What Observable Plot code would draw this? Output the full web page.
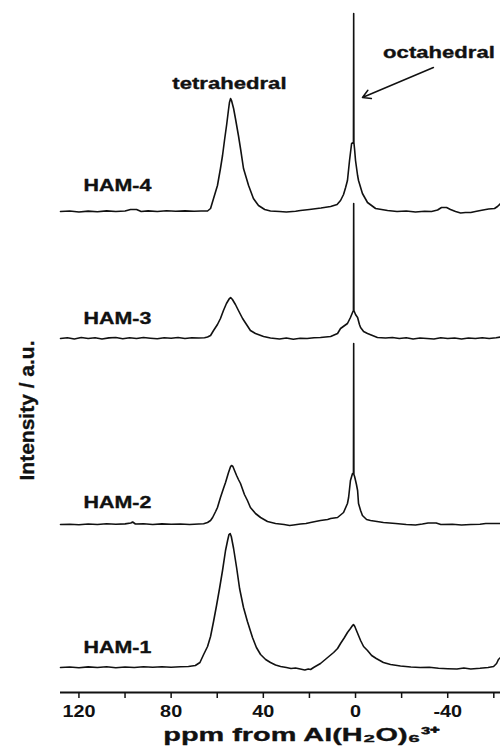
<!DOCTYPE html>
<html><head><meta charset="utf-8">
<script src="https://cdn.jsdelivr.net/npm/d3@7"></script>
<script src="https://cdn.jsdelivr.net/npm/@observablehq/plot@0.6"></script>
<style>
html,body{margin:0;padding:0;background:#fff;}
</style>
</head><body>
<div id="chart"></div>
<script>
// ---- data (ppm, intensity above each trace's own baseline, a.u.) ----
const samples = ["HAM-1", "HAM-2", "HAM-3", "HAM-4"];
const baselines = [25, 168, 354, 481];  // vertical stacking offsets, a.u.

const ham1 = [[128,0],[124,0.5],[120,-0.3],[116,0.6],[112,0],[108,0.8],[104,-0.2],[100,0.5],[96,0],[92,0.7],[88,0.2],[84,0.8],[80,0.3],[76,0.8],[72.5,1],[69.5,2],[67.5,5],[65.9,13],[64.2,21],[62.9,31],[61.6,46],[60.3,62],[59.0,79],[57.7,97],[56.4,117],[55.5,127],[54.9,133],[54.4,134],[53.9,131],[52.9,119],[51.6,100],[50.3,79],[48.6,60],[46.9,46],[44.7,30],[43.0,20],[41.2,13],[39.0,8],[36.9,5],[34.7,2.5],[32.5,1],[30,0],[28,-1],[26,-0.5],[24,-1.5],[22,-2.5],[20.5,-1.5],[19.5,-2],[18.2,0],[15.2,4],[12.1,10],[9.5,15],[7.8,19],[6.5,24],[4.8,30],[3.5,35],[2.2,39],[1.3,42],[0.9,43],[0.3,41],[-0.4,37],[-1.3,32],[-2.2,27],[-3.5,21],[-5.2,17],[-7,12],[-9,9],[-12.1,5],[-15.2,3],[-19.5,1.5],[-24,0.5],[-28,0],[-32,0.3],[-36,-0.8],[-40,-1.2],[-44,-1.5],[-47,-0.5],[-50,-1.5],[-54,-0.8],[-57.5,0],[-59.9,1],[-61.2,4],[-62,8],[-62.9,10]];

const ham2 = [[128,0],[124,0.3],[120,-0.2],[116,0.5],[112,0],[108,0.8],[104,0.2],[100,0.6],[97.5,1.5],[96.7,2.5],[95.5,0.5],[92,0.8],[88,0],[84,0.6],[80,0.2],[76,0.5],[72,0],[68,0.5],[65.9,0.8],[64.2,2],[62.9,4],[62,7],[60.7,13],[59.9,17],[58.6,27],[57.3,36],[56.4,42],[55.1,52],[54.2,58],[53.8,59],[53.2,58],[52.5,54],[51.6,49],[50.8,45],[49.9,41],[48.2,30],[46.9,24],[45.6,17],[43.4,11],[41.2,7],[38.2,3],[34.7,1],[31,0],[28.6,-1],[26.9,-0.5],[23.9,0.5],[21.5,1],[19.5,2],[17.4,3],[15.2,4],[12.1,5],[10.8,6],[7.8,7],[5.2,12],[3.5,21],[3.0,27],[2.2,44],[1.3,51],[0.9,51],[0.8,181],[0.7,50],[0.4,48],[-0.4,40],[-0.9,34],[-1.3,21],[-2.2,14],[-3.0,9],[-4.8,5],[-6.5,4],[-12.1,2],[-17.4,1],[-22,0],[-26,-0.5],[-29,0.5],[-31.5,1.5],[-35,1.5],[-37,0],[-42,0.2],[-46,-0.5],[-50,0],[-54,0.3],[-56.5,1],[-60,1],[-62.9,1]];

const ham3 = [[128,0],[125,0.8],[122,-0.5],[119,1],[116,0],[113,0.8],[110,-0.5],[107,0.6],[104,1],[101,-0.3],[98,0.8],[95,0],[92,1],[89,0.3],[86,-0.3],[83,0.8],[80,0.2],[77,1],[74,0],[71,0.8],[68,0.5],[65.5,0.8],[64.2,1.5],[62.9,3],[61.6,8],[59.9,14],[58.6,20],[57.3,28],[56,35],[54.7,40],[54.2,41],[53.4,39],[52.1,34],[50.8,28],[49,20],[47.3,14],[45.6,8],[43.4,5],[39.9,2],[36.9,0.5],[33,-0.5],[30,0.5],[27,-0.8],[24,0.3],[21,0],[18,0.8],[15.2,1],[10.8,2],[7.8,5],[6.5,10],[3.5,15],[2.2,21],[1.3,26],[0.9,28],[0.8,135],[0.7,28],[0,24],[-0.9,21],[-1.7,14],[-2.2,11],[-3.5,7],[-5.2,5],[-9.5,1],[-13,0.5],[-16,1],[-19,0],[-22,0.8],[-25,-0.5],[-28,0.5],[-31,0],[-34,-0.5],[-37,0.8],[-40,0],[-43,0.5],[-46,-0.5],[-49,0.5],[-52,0],[-55,0.8],[-58,0],[-61,0.8],[-62.9,1.5]];

const ham4 = [[128,0],[124,0.5],[120,-0.5],[116,0.4],[112,-0.3],[108,0.6],[104,0],[100,0.5],[97.6,2],[95,2],[93,0],[90,0.6],[86,0],[82,0.8],[78,0.2],[74,0.6],[70,0.3],[67,0.5],[64.2,0.5],[62.9,3],[61.6,13],[59.9,26],[58.6,43],[57.7,56],[56.8,72],[55.9,87],[55.1,102],[54.7,109],[54.2,113],[53.8,111],[52.9,103],[52.1,93],[50.8,76],[49.9,63],[48.6,43],[46.4,26],[44.3,13],[42.1,6],[39.4,2],[36.9,0.5],[33,0],[30,-0.5],[26,0.3],[23.9,1],[20,2],[15,3.5],[10.8,5],[8,7],[6.5,11],[5.2,17],[4.3,24],[3.5,31],[2.6,51],[1.7,68],[0.9,69],[0.8,198],[0.7,69],[0.4,62],[0,51],[-0.9,36],[-1.3,31],[-3.0,18],[-5.2,9],[-8.7,3],[-13.9,1],[-18,0],[-22,0.5],[-26,-0.5],[-30,0.3],[-33,0],[-35.6,1.5],[-37.3,4],[-39.5,4],[-41.2,2],[-43.4,0],[-45.6,-1.5],[-47.7,-1],[-50,-1],[-52,0],[-54.2,1],[-57.7,2.5],[-60.3,3],[-61.6,5],[-62.9,8]];

const xTicks = [120, 100, 80, 60, 40, 20, 0, -20, -40, -60];
const xTickLabels = ["120", "", "80", "", "40", "", "0", "", "-40", ""];
const xTitle = "ppm from Al(H\u2082O)\u2086\u00B3\u207A";
const yTitle = "Intensity / a.u.";

const labelPpm = 118;
const labelLift = [15, 17, 15, 21];          // a.u. above baseline
const peakLabels = ["tetrahedral", "octahedral"];
const peakLabelPpm = [54.7, -36.2];
const peakLabelAu = [604, 635];
const arrowFrom = [-33.8, 625];
const arrowTo = [-3.0, 595];

// ---- build tables ----
const spectra = [ham1, ham2, ham3, ham4];
const rows = samples.flatMap((s, i) => spectra[i].map(([p, v]) => ({sample: s, ppm: p, au: baselines[i] + v})));
const labelRows = samples.map((s, i) => ({name: s, ppm: labelPpm, au: baselines[i] + labelLift[i]}));
const peakRows = peakLabels.map((t, i) => ({t, ppm: peakLabelPpm[i], au: peakLabelAu[i]}));
const arrowRows = [{x1: arrowFrom[0], y1: arrowFrom[1], x2: arrowTo[0], y2: arrowTo[1]}];

const ink = "#111";
const thick = {stroke: ink, strokeWidth: 0.35};
const chart = Plot.plot({
  width: 500, height: 747,
  marginLeft: 60, marginRight: 0, marginTop: 0, marginBottom: 55,
  style: {fontFamily: "'Liberation Sans', Arial, sans-serif", fontWeight: "bold", background: "#fff", color: ink, overflow: "visible"},
  x: {domain: [128, -62.9], axis: null},
  y: {domain: [0, 692], axis: null},
  marks: [
    Plot.ruleY([0], {stroke: ink, strokeWidth: 2}),
    Plot.axisX(xTicks, {tickFormat: (d) => xTickLabels[xTicks.indexOf(d)], tickSize: 6, tickPadding: 7, fontSize: 16, fontWeight: "bold", stroke: ink, strokeWidth: 1.5, label: null}),
    Plot.line(rows, {x: "ppm", y: "au", z: "sample", stroke: ink, strokeWidth: 1.6, strokeLinejoin: "round"}),
    Plot.text(labelRows, {x: "ppm", y: "au", text: "name", textAnchor: "start", lineAnchor: "bottom", fontSize: 17, fontWeight: "bold", fill: ink, ...thick}),
    Plot.text(peakRows, {x: "ppm", y: "au", text: "t", textAnchor: "middle", lineAnchor: "bottom", fontSize: 17, fontWeight: "bold", fill: ink, ...thick}),
    Plot.arrow(arrowRows, {x1: "x1", y1: "y1", x2: "x2", y2: "y2", stroke: ink, strokeWidth: 1.5, headLength: 9}),
    Plot.text([xTitle], {frameAnchor: "bottom", text: (d) => d, textAnchor: "middle", dy: 48, dx: 21, lineAnchor: "bottom", fontSize: 19, fontWeight: "bold", fill: ink, ...thick}),
    Plot.text([yTitle], {frameAnchor: "left", text: (d) => d, textAnchor: "middle", rotate: -90, dx: -27, dy: 64, lineAnchor: "bottom", fontSize: 21, fontWeight: "bold", fill: ink, ...thick})
  ]
});
document.getElementById("chart").appendChild(chart);

// horizontal stretch of the bold labels (the original artwork is horizontally stretched)
const stretch = (txt) => txt === xTitle ? 1.52 : samples.includes(txt) ? 1.26 : peakLabels.includes(txt) ? 1.3 : 1.24;
chart.querySelectorAll("text").forEach((el) => {
  const tr = el.getAttribute("transform") || "";
  if (tr.includes("rotate")) return;
  const s = stretch(el.textContent);
  if (tr) el.setAttribute("transform", tr + ` scale(${s},1)`);
  else {
    const x = +el.getAttribute("x") || 0, y = +el.getAttribute("y") || 0;
    el.setAttribute("transform", `translate(${x},${y}) scale(${s},1) translate(${-x},${-y})`);
  }
});
</script>
</body></html>
